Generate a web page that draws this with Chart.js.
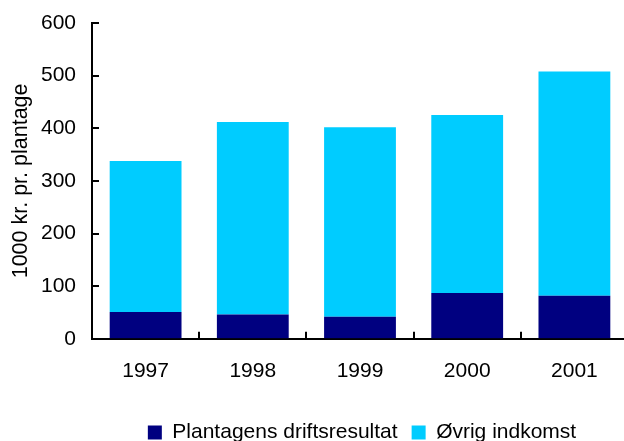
<!DOCTYPE html>
<html><head><meta charset="utf-8">
<script src="https://cdn.jsdelivr.net/npm/chart.js@4/dist/chart.umd.min.js"></script>
<style>html,body{margin:0;padding:0;overflow:hidden;background:#fff}</style>
</head><body>
<canvas id="c" width="632" height="441"></canvas>
<script>
const categories = ['1997', '1998', '1999', '2000', '2001'];
const driftsresultat = [51, 46, 42, 87, 82];
const oevrigIndkomst = [287, 366, 360, 338, 426];
const yTicks = [0, 100, 200, 300, 400, 500, 600];
const seriesNames = ['Plantagens driftsresultat', 'Øvrig indkomst'];
const yTitle = '1000 kr. pr. plantage';

Chart.defaults.font.family = "'Liberation Sans', Arial, sans-serif";
Chart.defaults.font.size = 21;
Chart.defaults.color = '#000';

const innerTicks = {
  id: 'innerTicks',
  afterDatasetsDraw(chart) {
    const { ctx, scales: { x, y } } = chart;
    ctx.save();
    ctx.strokeStyle = '#000';
    ctx.lineWidth = 2;
    ctx.beginPath();
    const yb = y.getPixelForValue(0);
    for (let i = 1; i < categories.length; i++) {
      const px = Math.round((x.getPixelForValue(i - 1) + x.getPixelForValue(i)) / 2);
      ctx.moveTo(px, yb);
      ctx.lineTo(px, yb - 7);
    }
    const ax = x.left;
    yTicks.forEach(v => {
      const py = Math.round(y.getPixelForValue(v));
      ctx.moveTo(ax, py);
      ctx.lineTo(ax + 7, py);
    });
    ctx.stroke();
    ctx.restore();
  }
};

const legendShift = {
  id: 'legendShift',
  afterLayout(chart) {
    const l = chart.legend;
    if (l) { l.left += 45; l.right += 45; l.top += 12; l.bottom += 12; }
  }
};

new Chart(document.getElementById('c'), {
  type: 'bar',
  data: {
    labels: categories,
    datasets: [
      { label: seriesNames[0], data: driftsresultat, backgroundColor: '#000080', borderWidth: 0 },
      { label: seriesNames[1], data: oevrigIndkomst, backgroundColor: '#00CCFF', borderWidth: 0 }
    ]
  },
  options: {
    responsive: false,
    animation: false,
    layout: { padding: { left: 6, right: 4, top: 23, bottom: 0 } },
    datasets: { bar: { categoryPercentage: 1, barPercentage: 0.67 } },
    plugins: {
      legend: {
        position: 'bottom',
        labels: { boxWidth: 14, boxHeight: 14, padding: 14, font: { size: 21 } }
      },
      tooltip: { enabled: false }
    },
    scales: {
      x: {
        stacked: true,
        grid: { display: true, drawOnChartArea: false, drawTicks: false },
        border: { display: true, color: '#000', width: 2 },
        ticks: { padding: 20, font: { size: 21 } },
        afterFit(scale) { scale.height -= 8; }
      },
      y: {
        stacked: true,
        min: 0, max: 600,
        afterBuildTicks(scale) { scale.ticks = yTicks.map(v => ({ value: v })); },
        grid: { display: true, drawOnChartArea: false, drawTicks: false },
        border: { display: true, color: '#000', width: 2 },
        ticks: { padding: 16, font: { size: 21 } },
        title: { display: true, text: yTitle, font: { size: 21.5 }, padding: { top: 2, bottom: 0 } },
        afterFit(scale) { scale.width = 86; scale.paddingTop = 0; }
      }
    }
  },
  plugins: [innerTicks, legendShift]
});
</script>
</body></html>
